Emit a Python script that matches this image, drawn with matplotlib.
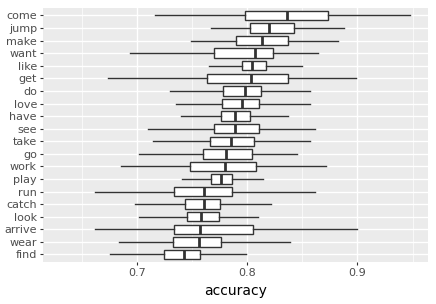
import matplotlib
matplotlib.use("Agg")
import matplotlib.pyplot as plt
from matplotlib.ticker import MultipleLocator

# verbs, top to bottom
verbs = ["come", "jump", "make", "want", "like", "get", "do", "love", "have", "see",
         "take", "go", "work", "play", "run", "catch", "look", "arrive", "wear", "find"]
whis_lo = [0.716, 0.767, 0.749, 0.693, 0.765, 0.673, 0.730, 0.735, 0.740, 0.710,
           0.714, 0.702, 0.685, 0.741, 0.662, 0.698, 0.702, 0.662, 0.683, 0.675]
q1 = [0.798, 0.802, 0.790, 0.770, 0.795, 0.763, 0.778, 0.777, 0.776, 0.770,
      0.766, 0.760, 0.748, 0.767, 0.733, 0.743, 0.745, 0.733, 0.732, 0.724]
med = [0.836, 0.820, 0.813, 0.807, 0.804, 0.803, 0.798, 0.795, 0.789, 0.789,
       0.785, 0.781, 0.780, 0.776, 0.761, 0.761, 0.758, 0.757, 0.756, 0.742]
q3 = [0.873, 0.842, 0.837, 0.823, 0.817, 0.837, 0.812, 0.811, 0.802, 0.811,
      0.806, 0.804, 0.808, 0.786, 0.786, 0.775, 0.774, 0.805, 0.776, 0.757]
whis_hi = [0.948, 0.888, 0.882, 0.864, 0.850, 0.899, 0.857, 0.857, 0.837, 0.861,
           0.857, 0.845, 0.871, 0.814, 0.861, 0.821, 0.810, 0.900, 0.839, 0.799]

stats = []
for i in range(len(verbs)):
    stats.append({"label": verbs[i], "whislo": whis_lo[i], "q1": q1[i], "med": med[i],
                  "q3": q3[i], "whishi": whis_hi[i], "fliers": []})

fig = plt.figure(figsize=(4.36, 3.04), dpi=100)
ax = fig.add_axes([0.099, 0.138, 0.882, 0.836])
ax.set_facecolor("#EBEBEB")

# ggplot puts the first level at the bottom, so reverse for display
positions = list(range(len(verbs), 0, -1))
ax.bxp(stats, positions=positions, vert=False, widths=0.75, showcaps=False,
       showfliers=False, patch_artist=True,
       boxprops=dict(facecolor="white", edgecolor="#333333", linewidth=1.0),
       medianprops=dict(color="#333333", linewidth=2.0),
       whiskerprops=dict(color="#333333", linewidth=1.0))

ax.set_xlim(0.6145, 0.9638)
ax.set_ylim(0.4, len(verbs) + 0.6)
ax.xaxis.set_major_locator(MultipleLocator(0.1))
ax.xaxis.set_minor_locator(MultipleLocator(0.05))
ax.set_yticks(positions)
ax.set_yticklabels(verbs)

ax.grid(which="major", color="white", linewidth=1.0)
ax.grid(which="minor", axis="x", color="white", linewidth=0.5)
ax.set_axisbelow(True)
for s in ax.spines.values():
    s.set_visible(False)

ax.tick_params(axis="both", which="major", length=2.5, width=0.8, color="#333333",
               labelcolor="#4D4D4D", labelsize=8, pad=2)
ax.tick_params(axis="both", which="minor", length=0)
ax.set_xlabel("accuracy", fontsize=10, color="black", labelpad=4)

fig.savefig("out.png", dpi=100)
